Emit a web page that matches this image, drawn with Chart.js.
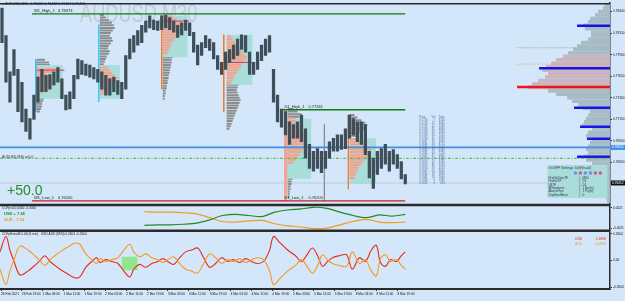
<!DOCTYPE html>
<html>
<head>
<title>AUDUSD M30</title>
<script src="https://cdn.jsdelivr.net/npm/chart.js"></script>
<style>
  body { margin: 0; background: #d4e6f9; }
</style>
</head>
<body>
<canvas id="chart" width="625" height="301"></canvas>
<script>
// ---- data ----
const timeLabels = ['26 Feb 2021', '26 Feb 19:00', '1 Mar 03:00', '1 Mar 11:00', '1 Mar 19:00', '2 Mar 03:00',
  '2 Mar 11:00', '2 Mar 19:00', '3 Mar 03:00', '3 Mar 11:00', '3 Mar 19:00', '4 Mar 03:00', '4 Mar 11:00',
  '4 Mar 19:00', '5 Mar 03:00', '5 Mar 11:00', '5 Mar 19:00', '8 Mar 03:00', '8 Mar 11:00', '8 Mar 19:00'];
const priceTicks = [0.78400, 0.78275, 0.78150, 0.78025, 0.77900, 0.77775, 0.77650, 0.77525, 0.77400,
  0.77275, 0.77150, 0.77025, 0.76900, 0.76775, 0.76650, 0.76525, 0.76400, 0.76275];

// price bars, one every ~1.5 hours: highs and lows
const highs = [0.7844, 0.7812, 0.7770, 0.7796, 0.7773, 0.7758, 0.7727, 0.7716, 0.7743, 0.7764,
  0.7773, 0.7766, 0.7767, 0.7770, 0.7775, 0.7762, 0.7743, 0.7747, 0.7766, 0.7785,
  0.7783, 0.7779, 0.7778, 0.7775, 0.7773, 0.7770, 0.7766, 0.7762, 0.7764, 0.7760,
  0.7758, 0.7789, 0.7808, 0.7812, 0.7818, 0.7824, 0.7829, 0.7835, 0.7830, 0.7829,
  0.7835, 0.7836, 0.7833, 0.7829, 0.7824, 0.7827, 0.7830, 0.7827, 0.7816, 0.7801,
  0.7804, 0.7812, 0.7808, 0.7804, 0.7789, 0.7781, 0.7793, 0.7796, 0.7801, 0.7808,
  0.7813, 0.7812, 0.7793, 0.7781, 0.7793, 0.7801, 0.7808, 0.7812, 0.7773, 0.7743,
  0.7727, 0.7724, 0.7712, 0.7709, 0.7712, 0.7720, 0.7704, 0.7686, 0.7678, 0.7681,
  0.7678, 0.7678, 0.7689, 0.7693, 0.7697, 0.7697, 0.7704, 0.7720, 0.7716, 0.7712,
  0.7712, 0.7709, 0.7678, 0.7670, 0.7678, 0.7681, 0.7686, 0.7678, 0.7680, 0.7674,
  0.7666, 0.7651];
const lows = [0.7804, 0.7758, 0.7735, 0.7766, 0.7724, 0.7712, 0.7701, 0.7692, 0.7715, 0.7735,
  0.7747, 0.7747, 0.7750, 0.7755, 0.7758, 0.7739, 0.7726, 0.7727, 0.7739, 0.7762,
  0.7767, 0.7766, 0.7764, 0.7762, 0.7758, 0.7750, 0.7743, 0.7743, 0.7747, 0.7744,
  0.7739, 0.7750, 0.7785, 0.7793, 0.7801, 0.7804, 0.7816, 0.7821, 0.7819, 0.7818,
  0.7819, 0.7821, 0.7819, 0.7816, 0.7810, 0.7813, 0.7818, 0.7812, 0.7793, 0.7778,
  0.7789, 0.7798, 0.7795, 0.7785, 0.7773, 0.7767, 0.7773, 0.7781, 0.7785, 0.7789,
  0.7796, 0.7793, 0.7767, 0.7767, 0.7773, 0.7783, 0.7789, 0.7793, 0.7735, 0.7712,
  0.7706, 0.7697, 0.7686, 0.7693, 0.7693, 0.7689, 0.7670, 0.7658, 0.7655, 0.7658,
  0.7653, 0.7658, 0.7670, 0.7678, 0.7678, 0.7680, 0.7681, 0.7693, 0.7697, 0.7689,
  0.7686, 0.7674, 0.7647, 0.7635, 0.7651, 0.7658, 0.7663, 0.7655, 0.7663, 0.7658,
  0.7646, 0.7640];

// key levels
const levelNames = ['W1_High_1', 'D1_High_1', 'W1_Low_1', 'D1_Low_1'];
const levelValues = [0.78373, 0.77261, 0.76205, 0.76205];
const levelFrom = [11.9, 107.9, 11.9, 107.9];   // hours
const levelTo = 155.0;
const blueLevel = 0.76824;
const dashLevel = 0.76698;
const bidPrice = 0.76412;

// session volume profiles
const profStart = [13.8, 37.9, 62.0, 86.5, 109.9, 133.6];
const boxEnd = [23.7, 45.6, 71.6, 96.5, 119.0, 143.9];
const boxHigh = [0.7778, 0.7778, 0.7835, 0.7813, 0.7716, 0.7693];
const boxLow = [0.7739, 0.7739, 0.7787, 0.7755, 0.7646, 0.7640];
const salmonTop = [0.7773, 0.7775, 0.7834, 0.7811, 0.7716, 0.7692];
const salmonVols = [
  [20, 18, 10, 12, 16, 14, 18, 12, 9, 6],
  [8, 10, 12, 15, 18, 16, 14, 12, 10, 8, 6],
  [10, 14, 18, 22, 24, 20, 17, 15, 13, 11, 9, 8, 7, 6, 5],
  [4, 6, 8, 10, 12, 14, 16, 18, 20, 19, 17, 15, 14, 12, 10, 8, 7, 5, 4],
  [6, 8, 10, 12, 14, 16, 18, 16, 17, 19, 20, 18, 16, 14, 12, 10, 8, 6],
  [8, 12, 16, 20, 22, 21, 19, 17, 15, 13, 11, 9, 8, 7, 6, 5]];
const grayTop = [0.7784, 0.7836, 0.7787, 0.7755, 0.7727, 0.7720];
const grayVols = [
  [8, 12, 13, 12, 11, 10, 10, 9, 9, 10, 9, 8, 8, 9, 8, 7, 6, 5, 5, 4, 3],
  [4, 6, 9, 12, 14, 15, 13, 11, 10, 12, 13, 11, 9, 8, 10, 9, 7, 6, 5, 4],
  [10, 9, 9, 8, 8, 7, 7, 6, 6, 5, 5, 4, 4, 3, 3, 2, 2],
  [12, 11, 10, 11, 12, 13, 14, 13, 12, 11, 10, 9, 8, 7, 6, 5, 4, 3],
  [6, 10, 14, 12, 9, 8, 6, 5, 5, 5, 6, 6, 7, 7, 8, 8, 8, 8, 8, 8, 8, 8,
    8, 7, 6, 6, 5, 5, 4, 4, 3, 3, 2, 2, 2],
  [5, 8, 12, 16, 18, 17, 14, 10, 7]];
const pocPrice = [0.7772, null, 0.7829, 0.7781, null, null];

// session start markers
const markerHour = [13.4, 37.5, 61.6, 85.4, 109.1, 124.0, 133.2];
const markerHigh = [0.7785, 0.7825, 0.7836, 0.7813, 0.7727, 0.7709, 0.7720];
const markerLow = [0.7724, 0.7735, 0.7750, 0.7724, 0.7620, 0.7620, 0.7634];

// whole-range profile on the right edge (bins of 0.0004 from 0.7850 down)
const rightTop = 0.7850;
const rightVols = [5, 7, 12, 15, 20, 22, 27, 25, 19, 19, 22, 29, 33, 37, 42, 47, 54, 59, 64, 68,
  62, 65, 72, 78, 82, 62, 54, 43, 38, 32, 27, 20, 22, 24, 26, 28, 18, 22, 24, 18,
  20, 22, 24, 22, 26, 24, 18, 12, 10, 8, 9, 10, 8, 7, 6, 5, 4, 3];
const hvnPrices = [0.78236, 0.77742, 0.77524, 0.77283, 0.77065, 0.76924, 0.76715];
const hvnVols = [33, 71, 93, 36, 30, 23, 33];

// CCFp sub window
const ccfHours = [55, 60, 65, 70, 75, 80, 85, 90, 95, 100, 105, 110, 115, 120, 125, 130, 135, 140, 145, 150, 155];
const ccfUsd = [-0.00144, -0.00133, -0.00133, -0.00122, -0.00099, -0.00033, 0.00055, 0.00077, 0.00055, 0.00033,
  0.00122, 0.00166, 0.00188, 0.00221, 0.00199, 0.00122, 0.00055, 0.00011, 0.00066, 0.00044, 0.00077];
const ccfAud = [0.00133, 0.00122, 0.00122, 0.00111, 0.00088, 0.00011, -0.00066, -0.00077, -0.00055, -0.00044,
  -0.00111, -0.00155, -0.00177, -0.00210, -0.00199, -0.00133, -0.00066, -0.00022, -0.00077, -0.00088, -0.00077];

// oscillator sub window
const oscHours = [-0.4, 1.9, 3.4, 5.0, 7.3, 10.3, 13.4, 14.9, 16.8, 18.8, 20.7, 22.6, 25.6, 28.3, 30.2, 32.5,
  34.8, 36.7, 37.9, 40.2, 42.5, 44.8, 47.1, 49.4, 50.9, 53.2, 55.5, 57.8, 60.1, 62.0, 63.9, 66.2,
  68.5, 70.8, 73.1, 75.4, 77.7, 80.0, 82.3, 84.6, 86.9, 89.2, 91.5, 93.8, 96.1, 98.4, 100.7, 103.0,
  104.5, 106.8, 109.9, 112.9, 115.2, 117.1, 119.4, 121.4, 123.3, 125.2, 127.1, 129.8, 132.5, 134.7,
  137.4, 139.7, 142.0, 143.9, 145.5, 147.4, 149.3, 151.6, 153.5, 155.0];
const usdOsc = [0.084, 0.233, 0.102, -0.009, -0.140, -0.102, -0.037, 0, 0.047, -0.009, -0.047, -0.084, -0.130,
  -0.167, -0.158, -0.065, -0.009, 0.028, -0.019, 0.009, -0.009, -0.028, -0.102, -0.158, -0.084, -0.037,
  -0.065, -0.028, -0.009, 0.019, -0.009, -0.037, 0.028, 0.084, 0.102, 0.121, 0.028, -0.065, -0.028,
  0.028, -0.009, 0.009, -0.019, 0.019, -0.009, -0.028, -0.009, 0.102, 0.233, 0.177, 0.102, 0.047,
  -0.009, 0.047, 0.121, 0.047, -0.056, -0.009, 0.028, 0.047, 0.056, -0.084, 0.028, -0.009, 0.102,
  0.149, -0.019, -0.056, 0.009, -0.009, 0.047, 0.084];
const audOsc = [-0.084, -0.233, -0.102, 0.009, 0.140, 0.102, 0.037, 0, -0.047, 0.009, 0.047, 0.084, 0.130,
  0.167, 0.158, 0.065, 0.009, -0.028, 0.019, -0.009, 0.009, 0.028, 0.102, 0.158, 0.084, 0.037,
  0.065, 0.028, 0.009, -0.019, 0.009, 0.037, -0.028, -0.084, -0.102, -0.121, -0.028, 0.065, 0.028,
  -0.028, 0.009, -0.009, 0.019, -0.019, 0.009, 0.028, 0.009, -0.102, -0.233, -0.177, -0.102, -0.047,
  0.009, -0.047, -0.121, -0.047, 0.056, 0.009, -0.028, -0.047, -0.056, 0.084, -0.028, 0.009, -0.102,
  -0.149, 0.019, 0.056, -0.009, 0.009, -0.047, -0.084];
const oscBoxHours = [46.3, 52.4];
const oscBoxRange = [0.037, -0.093];

// market profile table text
const tableRows = [
  ['0.7718', '7', '3526'], ['0.7715', '17', '4465'], ['0.7712', '22', '5180'], ['0.7709', '31', '6090'],
  ['0.7706', '29', '5830'], ['0.7703', '35', '7250'], ['0.7700', '41', '6590'], ['0.7697', '33', '5940'],
  ['0.7694', '48', '8710'], ['0.7691', '52', '9120'], ['0.7688', '39', '6330'], ['0.7685', '44', '7720'],
  ['0.7682', '61', '9880'], ['0.7679', '57', '8410'], ['0.7676', '42', '6180'], ['0.7673', '36', '5230'],
  ['0.7670', '29', '4310'], ['0.7667', '24', '3650'], ['0.7664', '18', '2890'], ['0.7661', '13', '2040'],
  ['0.7658', '9', '1380'], ['0.7655', '4', '610']];
const settingsRows = [['ProfileDataTF', 'M30'], ['ProfileTF', 'D1'], ['LBTF', 'D1'],
  ['IBNumbers', '1 Bar(s)'], ['AbovePips', '1 Pip(s)'], ['DayStartHour', '0']];

// ---- layout helpers ----
const BG = '#d4e6f9';
const X_MIN = -0.38, X_MAX = 233.5;   // hours across the plot
const HOURS_PER_VOL = 0.383;          // one volume unit is about one pixel wide
const FONT = '"Liberation Sans", Arial, sans-serif';

const datasets = [];
function seg(x0, x1, y0, y1, color, width, order, axis, dash) {
  datasets.push({
    type: 'line', data: [{x: x0, y: y0}, {x: x1, y: y1}], borderColor: color, borderWidth: width,
    pointRadius: 0, order: order, yAxisID: axis || 'y', borderDash: dash || [], fill: false
  });
}
function box(x0, x1, hi, lo, color, order, axis) {
  datasets.push({type: 'line', data: [{x: x0, y: hi}, {x: x1, y: hi}], borderColor: 'transparent',
    borderWidth: 0, pointRadius: 0, order: order, yAxisID: axis || 'y', fill: false});
  datasets.push({type: 'line', data: [{x: x0, y: lo}, {x: x1, y: lo}], borderColor: 'transparent',
    borderWidth: 0, pointRadius: 0, order: order, yAxisID: axis || 'y', fill: '-1', backgroundColor: color});
}

// candles
datasets.push({
  type: 'bar', label: 'AUDUSD', order: 1, yAxisID: 'y',
  data: highs.map((h, k) => ({x: 0.38 + 1.531 * k, y: [lows[k], h]})),
  backgroundColor: '#3e4f59', barThickness: 2.6
});

// profiles
profStart.forEach((s, i) => {
  grayVols[i].forEach((v, r) => {
    const p = grayTop[i] - r * 0.0003;
    seg(s, s + v * HOURS_PER_VOL, p, p, '#8c8c8c', 2, 8);
  });
  box(s, boxEnd[i], boxHigh[i], boxLow[i], '#a9ddd9', 7);
  salmonVols[i].forEach((v, r) => {
    const p = salmonTop[i] - r * 0.0003;
    seg(s, s + v * HOURS_PER_VOL, p, p, '#f5a08a', 2, 6);
  });
  if (pocPrice[i]) seg(s, boxEnd[i] + 0.6, pocPrice[i], pocPrice[i], '#e0306a', 1, 5);
});
const markerColors = ['#2aa8f2', '#36c6f0', '#f07a2a', '#f07a2a', '#f6a48e', '#8a8a8a', '#f07a2a'];
const markerWidths = [1.5, 1.5, 1, 1, 3, 1, 1];
markerHour.forEach((h, i) => seg(h, h, markerHigh[i], markerLow[i], markerColors[i], markerWidths[i], 5));

// right edge profile
rightVols.forEach((v, k) => {
  const p = rightTop - 0.0002 - k * 0.0004;
  const col = (k >= 15 && k <= 24) ? '#c9b5c0' : '#a9bcc6';
  seg(X_MAX - v * HOURS_PER_VOL, X_MAX, p, p, col, 3.6, 9);
});
seg(197.9, X_MAX, 0.7798, 0.7798, '#5fb0a8', 1, 8, 'y', [1, 1.5]);
seg(197.9, X_MAX, 0.7779, 0.7779, '#f0a050', 1, 8, 'y', [1, 1.5]);
hvnPrices.forEach((p, i) => seg(X_MAX - hvnVols[i] * HOURS_PER_VOL, X_MAX, p, p,
  i === 2 ? '#f01414' : '#1414e6', 2.5, 4));

// key levels
seg(levelFrom[0], levelTo, levelValues[0], levelValues[0], '#127a12', 1.3, 3);
seg(levelFrom[1], levelTo, levelValues[1], levelValues[1], '#127a12', 1.3, 3);
seg(levelFrom[2], levelTo, levelValues[2], levelValues[2], '#c81e1e', 1.3, 3);
seg(X_MIN, X_MAX, bidPrice, bidPrice, '#bccbdb', 1, 10);
seg(X_MIN, X_MAX, dashLevel, dashLevel, '#4cae4c', 1, 2, 'y', [3, 1.5, 1, 1.5]);
seg(X_MIN, X_MAX, blueLevel, blueLevel, '#3d8fe8', 1.8, 2);

// sub windows
datasets.push({type: 'line', yAxisID: 'yc', order: 1, data: ccfHours.map((h, i) => ({x: h, y: ccfUsd[i]})),
  borderColor: '#1f8c1f', borderWidth: 1.2, pointRadius: 0, tension: 0.3, fill: false});
datasets.push({type: 'line', yAxisID: 'yc', order: 1, data: ccfHours.map((h, i) => ({x: h, y: ccfAud[i]})),
  borderColor: '#f59a1c', borderWidth: 1.2, pointRadius: 0, tension: 0.3, fill: false});
box(oscBoxHours[0], oscBoxHours[1], oscBoxRange[0], oscBoxRange[1], '#8fe88f', 6, 'yo');
datasets.push({type: 'line', yAxisID: 'yo', order: 1, data: oscHours.map((h, i) => ({x: h, y: audOsc[i]})),
  borderColor: '#f59a1c', borderWidth: 1.1, pointRadius: 0, tension: 0.35, fill: false});
datasets.push({type: 'line', yAxisID: 'yo', order: 1, data: oscHours.map((h, i) => ({x: h, y: usdOsc[i]})),
  borderColor: '#e82a1c', borderWidth: 1.1, pointRadius: 0, tension: 0.35, fill: false});

// ---- drawing of texts, frame and axis price boxes ----
function txt(ctx, s, x, y, size, color, opts) {
  opts = opts || {};
  ctx.font = (opts.bold ? 'bold ' : '') + size + 'px ' + FONT;
  ctx.fillStyle = color;
  ctx.textAlign = opts.align || 'left';
  ctx.textBaseline = opts.base || 'middle';
  ctx.fillText(s, x, y);
}

const mt4 = {
  id: 'mt4',
  beforeDraw(c) {
    const ctx = c.ctx;
    ctx.save();
    ctx.fillStyle = BG;
    ctx.fillRect(0, 0, c.width, c.height);
    ctx.restore();
  },
  beforeDatasetsDraw(c) {
    const ctx = c.ctx;
    ctx.save();
    ctx.translate(80, 2);
    ctx.scale(0.7, 1);
    txt(ctx, 'AUDUSD,M30', 0, 0, 26, '#c3cbd4', {base: 'top'});
    ctx.restore();
  },
  afterDatasetsDraw(c) {
    const ctx = c.ctx, sx = c.scales.x, sy = c.scales.y, yc = c.scales.yc, yo = c.scales.yo;
    ctx.save();
    txt(ctx, '\u25BE AUDUSD,M30  0.76408 0.76412 0.76407 0.76412', 2, 3.5, 3.6, '#222');
    levelNames.forEach((n, i) => {
      const x = sx.getPixelForValue(levelFrom[i]) + 2, y = sy.getPixelForValue(levelValues[i]) - 1;
      txt(ctx, n, x, y, 4, '#222', {base: 'bottom'});
      txt(ctx, levelValues[i].toFixed(5), x + 24, y, 4, '#222', {base: 'bottom'});
    });
    txt(ctx, 'AUDUSD,M30 at 0.0', 2, sy.getPixelForValue(dashLevel) - 1.5, 3.4, '#333');
    txt(ctx, '+50.0', 7, sy.bottom - 7, 14, '#2a8c2a', {base: 'bottom'});

    // market profile table
    const tx = sx.getPixelForValue(160.5);
    txt(ctx, 'Price', tx, 117, 2.6, '#3b6fb8');
    txt(ctx, 'Vol', tx + 12, 117, 2.6, '#3b6fb8');
    txt(ctx, 'Ticks', tx + 19, 117, 2.6, '#3b6fb8');
    tableRows.forEach((r, i) => {
      const y = 120.5 + i * 3;
      txt(ctx, r[0], tx, y, 2.6, '#4a6f9a');
      txt(ctx, r[1], tx + 15, y, 2.6, '#4a6f9a', {align: 'right'});
      txt(ctx, r[2], tx + 25, y, 2.6, '#4a6f9a', {align: 'right'});
    });

    // settings panel
    const bx = sx.getPixelForValue(209.5), by = 165;
    ctx.fillStyle = '#a9ddd9';
    ctx.fillRect(bx, by, 60, 33);
    txt(ctx, 'On/OFF Settings: Def(Visual)', bx + 1, by + 3, 3.3, '#335');
    ['#6f8fe8', '#e8508f', '#6f8fe8', '#6f8fe8', '#e8508f', '#e8508f'].forEach((col, i) => {
      ctx.beginPath();
      ctx.fillStyle = col;
      ctx.arc(bx + 28 + i * 5, by + 8, 1.8, 0, Math.PI * 2);
      ctx.fill();
    });
    settingsRows.forEach((r, i) => {
      const y = by + 13 + i * 3.4;
      txt(ctx, r[0], bx + 1, y, 3.2, '#335');
      txt(ctx, '|', bx + 32, y, 3.2, '#335');
      txt(ctx, r[1], bx + 35, y, 3.2, '#335');
    });

    // sub window captions
    txt(ctx, 'CCFpv4 0.0000 -0.0000', 2, yc.top + 3.5, 3.2, '#222');
    txt(ctx, 'USD + 7.34', 4, yc.top + 9, 4, '#1f8c1f', {bold: true});
    txt(ctx, 'AUD - 7.34', 4, yc.top + 15, 4, '#f59a1c', {bold: true});
    txt(ctx, 'CCFpExtraM 0.06 (6 min)   USD AUD (M30) 0.2604 -0.2604', 2, yo.top + 3.5, 3.2, '#222');
    txt(ctx, 'USD', 575, yo.top + 8, 3.4, '#e82a1c');
    txt(ctx, '0.1898', 606, yo.top + 8, 3.4, '#e82a1c', {align: 'right'});
    txt(ctx, 'AUD', 575, yo.top + 13, 3.4, '#f59a1c');
    txt(ctx, '-0.1898', 606, yo.top + 13, 3.4, '#f59a1c', {align: 'right'});
    ctx.restore();
  },
  afterDraw(c) {
    const ctx = c.ctx, a = c.chartArea, sy = c.scales.y;
    ctx.save();
    ctx.strokeStyle = '#2b2b2b';
    ctx.lineWidth = 1.5;
    ['y', 'yc', 'yo'].forEach(id => {
      const s = c.scales[id];
      ctx.beginPath();
      ctx.moveTo(0, s.top + 0.75);
      ctx.lineTo(a.right, s.top + 0.75);
      ctx.moveTo(0, s.bottom - 0.25);
      ctx.lineTo(a.right, s.bottom - 0.25);
      ctx.stroke();
    });
    // price boxes on the axis
    [[blueLevel, '#3d8fe8'], [bidPrice, '#111']].forEach(([v, col]) => {
      const y = sy.getPixelForValue(v);
      ctx.fillStyle = col;
      ctx.fillRect(a.right + 1, y - 2.5, 14, 5);
      txt(ctx, v.toFixed(5), a.right + 2, y, 3.2, '#fff');
    });
    ctx.restore();
  }
};

const fitY = s => { s.width = 15; };
const tickFont = {family: FONT, size: 3.2};

new Chart(document.getElementById('chart'), {
  type: 'line',
  data: {datasets: datasets},
  options: {
    responsive: false,
    animation: false,
    events: [],
    layout: {padding: 0, autoPadding: false},
    plugins: {legend: {display: false}, tooltip: {enabled: false}},
    scales: {
      y: {
        type: 'linear', position: 'right', stack: 'win', stackWeight: 204,
        min: 0.76158, max: 0.7850, afterFit: fitY,
        afterBuildTicks: s => { s.ticks = priceTicks.map(v => ({value: v})); },
        ticks: {font: tickFont, color: '#111', padding: 1, callback: v => v.toFixed(5)},
        grid: {drawOnChartArea: false, tickLength: 2, color: '#333'},
        border: {display: true, color: '#2b2b2b', width: 1.5}
      },
      yc: {
        type: 'linear', position: 'right', stack: 'win', stackWeight: 26,
        min: -0.0025, max: 0.0027, afterFit: fitY,
        afterBuildTicks: s => { s.ticks = [0.0021, 0, -0.0021].map(v => ({value: v})); },
        ticks: {font: tickFont, color: '#111', padding: 1, callback: v => v === 0 ? '0.00' : v.toFixed(4)},
        grid: {drawOnChartArea: false, tickLength: 2, color: '#333'},
        border: {display: true, color: '#2b2b2b', width: 1.5}
      },
      yo: {
        type: 'linear', position: 'right', stack: 'win', stackWeight: 59,
        min: -0.275, max: 0.29, afterFit: fitY,
        afterBuildTicks: s => { s.ticks = [0.2604, 0, -0.2604].map(v => ({value: v})); },
        ticks: {font: tickFont, color: '#111', padding: 1, callback: v => v === 0 ? '0.00' : v.toFixed(4)},
        grid: {drawOnChartArea: false, tickLength: 2, color: '#333'},
        border: {display: true, color: '#2b2b2b', width: 1.5}
      },
      x: {
        type: 'linear', position: 'bottom', min: X_MIN, max: X_MAX, offset: false,
        afterFit: s => { s.height = 12; },
        afterBuildTicks: s => { s.ticks = timeLabels.map((t, i) => ({value: i * 8})); },
        ticks: {font: tickFont, color: '#111', padding: 1, maxRotation: 0, autoSkip: false, align: 'start',
          callback: v => timeLabels[Math.round(v / 8)] || ''},
        grid: {drawOnChartArea: false, tickLength: 2, color: '#333', offset: false},
        border: {display: true, color: '#2b2b2b'}
      }
    }
  },
  plugins: [mt4]
});
</script>
</body>
</html>
